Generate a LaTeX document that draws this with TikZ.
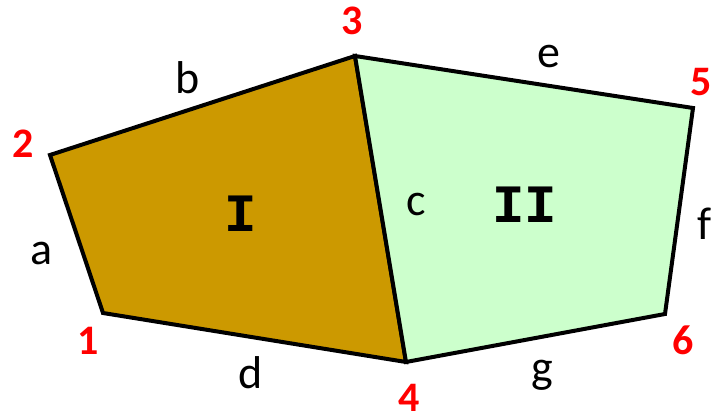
\documentclass[tikz,border=0pt]{standalone}
\usepackage{fontspec}
\setmainfont{Carlito}
\newfontfamily\regmono{Liberation Mono}
\definecolor{regionone}{HTML}{CC9900}
\definecolor{regiontwo}{HTML}{CCFFCC}
\definecolor{vertred}{HTML}{FF0000}

\begin{document}
\begin{tikzpicture}[x=1pt, y=-1pt,
 edgelbl/.style={anchor=base, inner sep=0pt, font=\fontsize{46}{52}\selectfont},
 vertlbl/.style={anchor=base, inner sep=0pt, text=vertred, font=\fontsize{42}{48}\selectfont\bfseries},
 reglbl/.style={anchor=base, inner sep=0pt, font=\fontsize{54}{60}\regmono\bfseries}]
 \useasboundingbox (0,0) rectangle (713,419);
 % corners
 \coordinate (p1) at (103,313);
 \coordinate (p2) at (50,155);
 \coordinate (p3) at (355,56);
 \coordinate (p4) at (406,362);
 \coordinate (p5) at (693,108);
 \coordinate (p6) at (665,314);
 % the two regions
 \draw[line width=4pt, line join=miter, fill=regionone] (p1) -- (p2) -- (p3) -- (p4) -- cycle;
 \draw[line width=4pt, line join=miter, fill=regiontwo] (p3) -- (p5) -- (p6) -- (p4) -- cycle;
 \node[reglbl] (r1) at (241,232) {I};
 \node[reglbl] (r2) at (525,223) {II};
 % edges
 \node[edgelbl] (ea) at (42,265) {a};
 \node[edgelbl] (eb) at (188,94) {b};
 \node[edgelbl] (ec) at (416,216) {c};
 \node[edgelbl] (ed) at (251,389) {d};
 \node[edgelbl] (ee) at (549,68) {e};
 \node[edgelbl] (ef) at (705,240) {f};
 \node[edgelbl] (eg) at (542,383) {g};
 % corner numbers
 \node[vertlbl] (v1) at (88,355) {1};
 \node[vertlbl] (v2) at (23,158) {2};
 \node[vertlbl] (v3) at (352,35) {3};
 \node[vertlbl] (v4) at (409,412) {4};
 \node[vertlbl] (v5) at (701,96) {5};
 \node[vertlbl] (v6) at (683,355) {6};
\end{tikzpicture}
\end{document}
